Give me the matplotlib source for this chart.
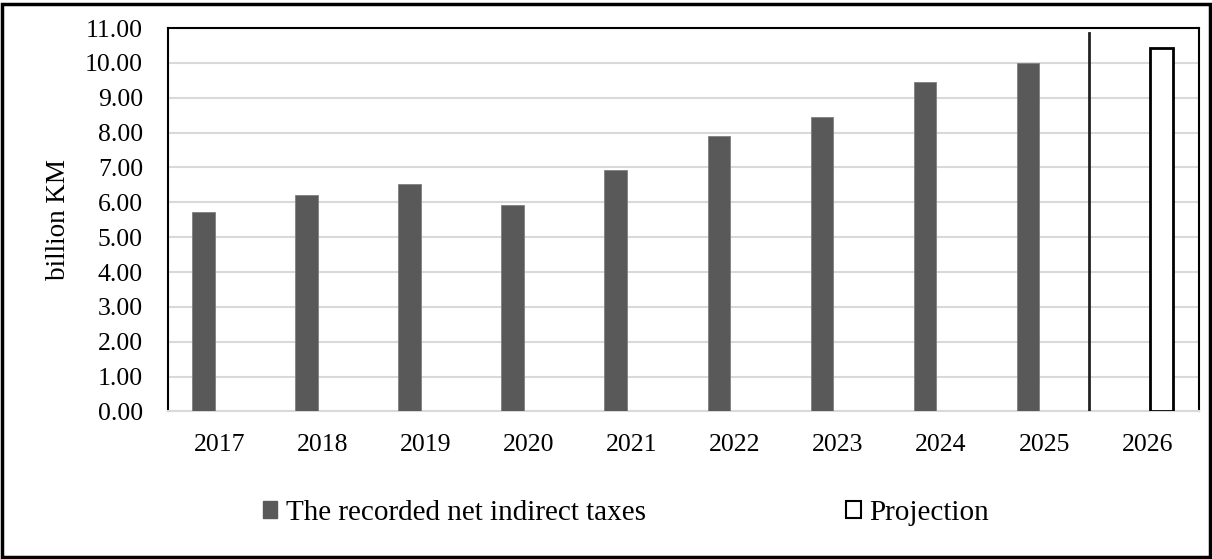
import matplotlib.pyplot as plt
import numpy as np
from matplotlib.patches import Patch, Rectangle

years = ["2017", "2018", "2019", "2020", "2021", "2022", "2023", "2024", "2025", "2026"]
recorded = [5.72, 6.20, 6.53, 5.91, 6.94, 7.90, 8.44, 9.45, 9.99, np.nan]
projection = [np.nan] * 9 + [10.44]
y_ticks = np.arange(0, 12, 1)

plt.rcParams["font.family"] = ["Liberation Serif", "DejaVu Serif"]

fig = plt.figure(figsize=(12.12, 5.59), dpi=100)
ax = fig.add_axes([0.1386, 0.2639, 0.8504, 0.686])

x = np.arange(len(years))
width = 0.22
ax.bar(x - 0.155, recorded, width, color="#595959", edgecolor="#7f7f7f",
       linewidth=0.6, zorder=3, label="The recorded net indirect taxes")
ax.bar(x + 0.14, projection, width, color="white", edgecolor="black",
       linewidth=2, zorder=3, label="Projection")

# separator between actual and projected years
ax.axvline(8.44, ymin=0, ymax=0.988, color="#222222", linewidth=2, zorder=4)

ax.set_xlim(-0.5, 9.5)
ax.set_ylim(0, 11)
ax.set_yticks(y_ticks)
ax.set_yticklabels([f"{v:.2f}" for v in y_ticks], fontsize=18.5)
ax.set_xticks(x)
ax.set_xticklabels(years, fontsize=18.5)
ax.tick_params(axis="y", length=0, pad=18)
ax.tick_params(axis="x", length=0, pad=16)
ax.yaxis.grid(True, color="#d9d9d9", linewidth=1.5, zorder=0)
ax.set_axisbelow(True)
for side in ["left", "top", "right"]:
    ax.spines[side].set_color("black")
    ax.spines[side].set_linewidth(1.5)
ax.spines["bottom"].set_color("#d9d9d9")
ax.spines["bottom"].set_linewidth(1.5)
ax.set_ylabel("billion KM", fontsize=19.5, labelpad=10)

handles = [
    Patch(facecolor="#595959", edgecolor="#595959", label="The recorded net indirect taxes"),
    Patch(facecolor="white", edgecolor="black", linewidth=1.5, label="Projection"),
]
fig.legend(handles=handles, loc="center", bbox_to_anchor=(0.5165, 0.083), ncol=2,
           frameon=False, fontsize=21, handlelength=0.5, handleheight=0.5,
           handletextpad=0.3, columnspacing=6.85)

# outer chart border
fig.patches.append(Rectangle((0.002, 0.003), 0.996, 0.99, transform=fig.transFigure,
                             fill=False, edgecolor="black", linewidth=2.5))

fig.savefig("out.png", dpi=100)
